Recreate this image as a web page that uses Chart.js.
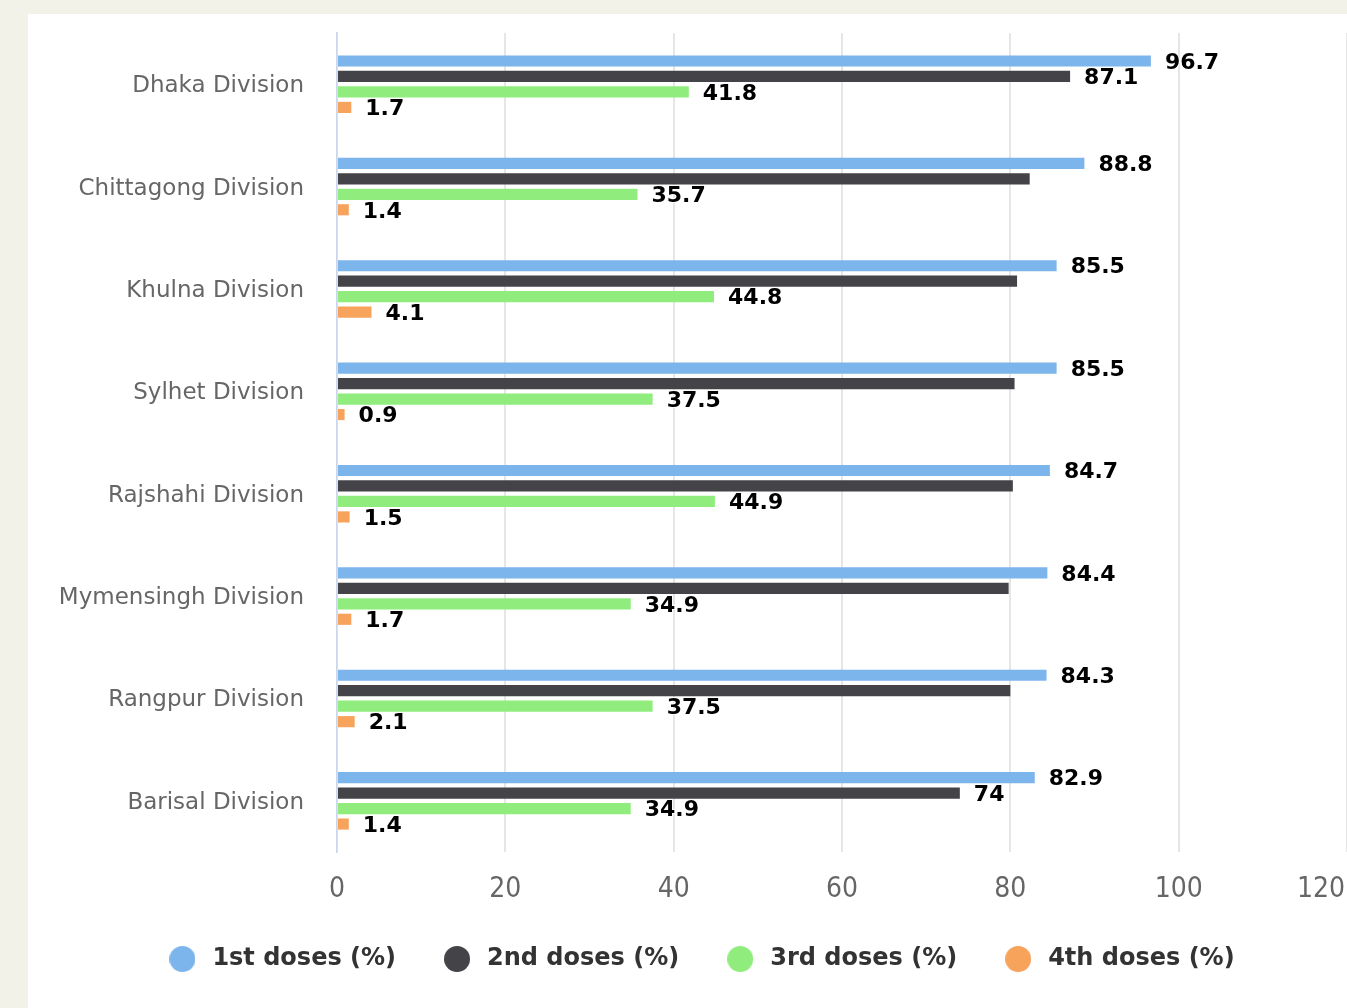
<!DOCTYPE html>
<html><head><meta charset="utf-8">
<script src="https://cdn.jsdelivr.net/npm/chart.js@4/dist/chart.umd.min.js"></script>
<style>
html,body{margin:0;padding:0;background:#f2f2e9;overflow:hidden;width:1347px;height:1008px;}
#panel{position:absolute;left:28px;top:14px;width:1319px;height:994px;background:#fff;}
#c{display:block;}
</style></head><body>
<div id="panel"><canvas id="c" width="1319" height="994"></canvas></div>
<script>
const categories = ['Dhaka Division','Chittagong Division','Khulna Division','Sylhet Division','Rajshahi Division','Mymensingh Division','Rangpur Division','Barisal Division'];
const firstDoses  = [96.7, 88.8, 85.5, 85.5, 84.7, 84.4, 84.3, 82.9];
const secondDoses = [87.1, 82.3, 80.8, 80.5, 80.3, 79.8, 80.0, 74];
const thirdDoses  = [41.8, 35.7, 44.8, 37.5, 44.9, 34.9, 37.5, 34.9];
const fourthDoses = [1.7, 1.4, 4.1, 0.9, 1.5, 1.7, 2.1, 1.4];
const seriesNames = ['1st doses (%)','2nd doses (%)','3rd doses (%)','4th doses (%)'];
const seriesColors = ['#7cb5ec','#434348','#90ed7d','#f7a35c'];
const xMin = 0, xMax = 120, xStep = 20;

const tickFont = '"Liberation Sans Narrow", "DejaVu Sans Condensed", sans-serif';

function makeDot(color){
  const c = document.createElement('canvas');
  c.width = 26; c.height = 26;
  const g = c.getContext('2d');
  g.fillStyle = color; g.beginPath(); g.arc(13,13,13,0,Math.PI*2); g.fill();
  return c;
}

const labelPlugin = {
  id: 'valueLabels',
  afterDatasetsDraw(chart){
    const ctx = chart.ctx;
    ctx.save();
    ctx.font = 'bold 22px "DejaVu Sans"';
    ctx.textAlign = 'left';
    ctx.textBaseline = 'middle';
    ctx.lineJoin = 'round';
    const n = chart.data.labels.length;
    for (let i = 0; i < n; i++){
      const boxes = [];
      chart.data.datasets.forEach((ds, d) => {
        const el = chart.getDatasetMeta(d).data[i];
        const v = ds.data[i];
        const t = String(v);
        const w = ctx.measureText(t).width;
        const x = el.x + 14, y = el.y + 2;
        const b = {x1: x - 5, x2: x + w + 5, y1: y - 13, y2: y + 13};
        if (boxes.some(o => !(b.x2 <= o.x1 || b.x1 >= o.x2 || b.y2 <= o.y1 || b.y1 >= o.y2))) return;
        boxes.push(b);
        ctx.strokeStyle = '#fff'; ctx.lineWidth = 2;
        ctx.strokeText(t, x, y);
        ctx.fillStyle = '#000';
        ctx.fillText(t, x, y);
      });
    }
    ctx.restore();
  }
};

const edgeTickPlugin = {
  id: 'edgeTick',
  afterDraw(chart){
    const s = chart.scales.x;
    const ctx = chart.ctx;
    ctx.save();
    ctx.font = '28px ' + tickFont;
    ctx.fillStyle = '#666';
    ctx.textAlign = 'right';
    ctx.textBaseline = 'middle';
    ctx.fillText(String(xMax), chart.width - 2, s.top + 21 + 17);
    ctx.restore();
  }
};

const datasets = [firstDoses, secondDoses, thirdDoses, fourthDoses].map((arr, k) => ({
  label: seriesNames[k],
  data: arr,
  backgroundColor: seriesColors[k],
  borderWidth: 0,
  categoryPercentage: 0.605,
  barPercentage: 0.72
}));

new Chart(document.getElementById('c'), {
  type: 'bar',
  data: { labels: categories, datasets },
  options: {
    indexAxis: 'y',
    responsive: false,
    animation: false,
    layout: { padding: { left: 24, top: 19, right: 0, bottom: 27 } },
    scales: {
      x: {
        type: 'linear', position: 'bottom', min: xMin, max: xMax,
        ticks: {
          stepSize: xStep, padding: 21,
          font: { family: tickFont, size: 28 },
          color: c => (c.tick && c.tick.value === xMax) ? 'rgba(0,0,0,0)' : '#666'
        },
        grid: { color: '#e6e6e6', lineWidth: 2, drawTicks: false },
        border: { display: false },
        afterFit: s => { s.paddingRight = 0; s.paddingLeft = 0; s.height = 52; }
      },
      y: {
        type: 'category',
        ticks: { padding: 33, labelOffset: 2, font: { family: '"DejaVu Sans"', size: 23 }, color: '#666' },
        grid: { display: false, drawTicks: false },
        border: { display: true, color: '#ccd6eb', width: 1.5 },
        afterFit: s => { s.width = 285; s.paddingTop = 0; s.paddingBottom = 0; }
      }
    },
    plugins: {
      legend: {
        position: 'bottom',
        labels: {
          usePointStyle: true, pointStyleWidth: 36, boxHeight: 24, padding: 43,
          font: { family: '"DejaVu Sans"', size: 24, weight: 'bold' }, color: '#333',
          generateLabels: chart => chart.data.datasets.map((ds, i) => ({
            text: ds.label, fillStyle: ds.backgroundColor, strokeStyle: ds.backgroundColor,
            lineWidth: 0, pointStyle: makeDot(ds.backgroundColor), hidden: !chart.isDatasetVisible(i),
            datasetIndex: i, fontColor: '#333'
          }))
        }
      },
      tooltip: { enabled: false }
    }
  },
  plugins: [labelPlugin, edgeTickPlugin]
});
</script>
</body></html>
